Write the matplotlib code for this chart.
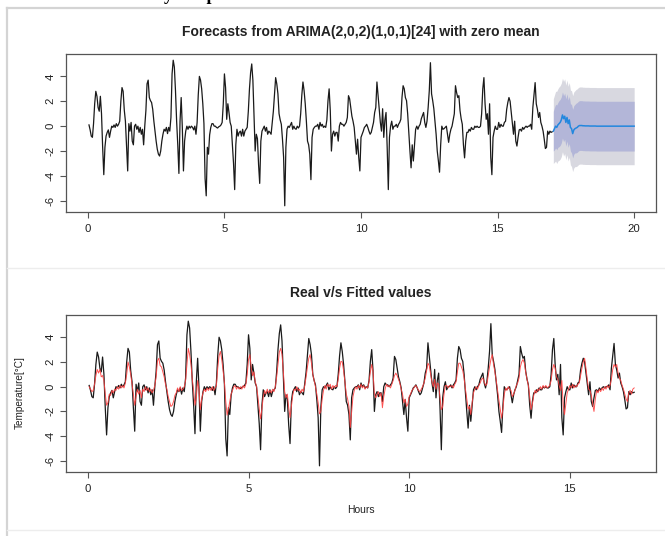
import matplotlib
matplotlib.use("Agg")
import matplotlib.pyplot as plt
from matplotlib.lines import Line2D
import numpy as np

FIG_W_PX, FIG_H_PX = 665, 536
DPI = 100

BOX_COLOR   = "#555555"
TEXT_COLOR  = "#222222"
OBS_COLOR   = "#1a1a1a"
FIT_COLOR   = "#ff4040"
FC_COLOR    = "#2287de"
SHADE_95    = "#d8d8e0"
SHADE_80    = "#b3b6d8"
FRAME_COLOR = "#d4d4d4"

TITLE_FORECAST = "Forecasts from ARIMA(2,0,2)(1,0,1)[24] with zero mean"
TITLE_FITTED   = "Real v/s Fitted values"
Y_LABEL = "Temperature[°C]"
X_LABEL = "Hours"
Y_TICKS = [-6, -4, -2, 0, 2, 4]

# hourly temperature deviation, one row per day (17 days)
observed = [
    0.1, -0.3, -0.8, -0.9, 0.2, 1.8, 2.8, 2.4, 1.5, 1.2, 2.4, 1.0, -1.7, -3.9, -1.7, -0.8, -0.5, -0.3, -0.9, -0.4, 0.0, -0.1, 0.1, -0.1,
    0.2, 0.0, 0.15, 0.4, 2.0, 3.1, 2.8, 1.3, 0.4, -1.7, -3.6, 0.2, -0.4, 0.3, -1.2, -1.5, 0.0, 0.15, -0.25, 0.0, -0.5, -0.1, -0.65, -0.25,
    -1.5, 0.0, 1.25, 3.4, 3.7, 2.3, 2.05, 1.9, 1.35, 0.4, -0.4, -1.2, -1.85, -2.25, -2.4, -2.0, -1.2, -0.65, -0.25, -0.4, -0.1, -0.6, -0.1, -0.4,
    0.7, 4.2, 5.3, 4.75, 2.85, 0.4, -1.5, -3.8, 0.4, 2.3, -0.1, -3.6, -1.2, -0.4, 0.0, -0.25, 0.0, -0.15, 0.0, -0.1, -0.3, 0.0, -0.65, 0.3,
    2.5, 4.0, 3.7, 3.0, 1.8, 0.2, -4.2, -5.6, -1.7, -2.25, -0.7, -0.1, 0.2, 0.2, 0.0, 0.0, -0.1, -0.15, -0.05, 0.0, 0.1, 0.3, 1.8, 4.2,
    3.1, 0.55, 1.8, 1.1, 0.3, 0.0, -1.5, -3.0, -5.1, -1.5, -0.25, -0.8, -0.5, -0.4, -0.8, -0.25, -0.8, -0.4, -0.25, -0.1, 1.2, 3.0, 4.3, 5.0,
    3.7, 0.8, -2.0, -0.65, -1.0, -3.1, -4.6, -1.2, -0.4, -0.2, 0.0, -0.4, -0.1, -0.65, -0.4, -0.5, -0.65, 0.3, 1.2, 2.5, 3.9, 3.4, 2.6, 1.0,
    0.5, 0.15, -1.05, -2.5, -6.4, -1.7, -0.25, 0.0, -0.1, 0.1, 0.3, -0.25, 0.0, -0.2, -0.25, 0.0, -0.15, 0.0, 1.0, 2.5, 3.55, 2.85, 1.8, 0.4,
    -1.2, -1.5, -2.25, -4.3, -0.9, -0.25, -0.1, 0.0, 0.0, 0.15, -0.25, 0.3, 0.0, 0.15, -0.1, 0.0, -0.1, 0.5, 2.05, 3.0, 1.25, -2.0, -0.65, -0.4,
    -0.8, -0.5, -0.5, -1.2, 0.0, 0.3, 0.15, 0.15, 0.0, 0.15, 0.3, 0.7, 2.45, 2.2, 1.5, 0.8, 0.4, -0.1, -1.2, -2.25, -1.05, -2.5, -3.6, -0.9,
    -0.65, -0.4, -0.1, 0.0, 0.15, -0.1, -0.4, -0.65, -0.5, -0.1, 0.3, 1.1, 1.5, 3.55, 2.45, 1.4, 0.3, -0.4, 1.4, -0.9, 0.5, 1.1, -1.7, -5.1,
    -0.9, 0.0, 0.4, -0.25, 0.0, 0.0, 0.15, -0.1, 0.15, 0.3, 0.55, 2.3, 3.25, 3.0, 2.3, 2.05, 1.0, -0.5, -2.0, -3.35, -1.5, -2.8, -1.5, -0.25,
    0.0, -0.25, 0.0, 0.15, 0.6, 0.85, 1.1, 0.3, -0.1, 0.4, 1.5, 2.85, 5.1, 2.6, 2.05, 1.4, 0.4, -0.65, -2.0, -2.8, -3.7, -1.5, 0.0, -0.25,
    -0.2, -0.1, 0.0, -0.65, -1.3, -0.65, -0.25, 0.0, 0.5, 1.0, 3.25, 2.7, 2.3, 2.45, 1.25, 0.6, 0.15, -1.5, -2.55, -1.2, -0.5, -0.5, -0.25, -0.4,
    -0.1, -0.25, -0.25, 0.0, -0.1, 0.0, -0.1, -0.1, 0.0, 1.0, 3.0, 3.9, 1.8, 0.55, 1.0, -0.65, 1.8, -2.5, -3.9, -0.9, -0.4, 0.0, -0.25, -0.25,
    0.3, -0.1, 0.15, 0.0, 0.0, 0.3, 0.4, 1.35, 1.9, 2.3, 2.0, 1.1, 0.2, -0.65, 0.4, -1.2, -1.6, -0.9, -0.3, -0.25, -0.4, -0.1, -0.25, -0.1,
    0.0, -0.1, 0.0, 0.0, 0.15, -0.25, 1.5, 2.5, 3.5, 1.8, 1.35, 0.7, 1.1, 0.3, 0.0, -0.4, -1.05, -1.8, -1.7, -0.4, -0.65, -0.4, -0.5, -0.45,
]

# in-sample fitted values of the model, same hours
fitted = [
    0.0, -0.2, -0.4, -0.3, 0.2, 0.9, 1.4, 1.1, 1.4, 0.8, 0.9, 0.5, -0.6, -1.5, -1.3, -0.6, -0.7, -0.3, -0.5, -0.2, -0.3, 0.0, -0.2, 0.1,
    -0.1, 0.1, -0.1, 0.3, 1.0, 2.0, 1.6, 1.0, 0.2, -0.6, -1.5, -0.8, -0.2, -0.6, -0.3, -0.9, -0.2, -0.4, 0.0, -0.3, -0.1, -0.4, -0.2, -0.5,
    -0.3, 0.1, 0.8, 2.1, 2.3, 1.7, 1.6, 1.2, 0.8, 0.2, -0.2, -0.8, -1.2, -1.6, -1.5, -1.2, -0.7, -0.5, -0.1, -0.4, 0.0, -0.3, -0.2, 0.0,
    0.5, 1.8, 3.1, 2.6, 1.8, 0.6, -0.3, -1.5, -0.9, 0.5, -0.3, -1.85, -1.0, -0.5, -0.2, -0.4, -0.1, -0.3, -0.1, -0.3, 0.0, -0.3, -0.1, 0.1,
    1.5, 2.5, 2.85, 2.2, 1.3, 0.3, -1.2, -2.3, -1.8, -1.2, -0.6, -0.3, 0.0, 0.1, -0.2, 0.0, -0.2, 0.0, -0.2, 0.1, -0.1, 0.2, 1.0, 2.2,
    2.6, 1.5, 0.9, 1.2, 0.4, 0.0, -0.8, -1.8, -2.6, -1.8, -0.8, -0.3, -0.6, -0.2, -0.5, -0.3, -0.5, -0.2, -0.4, 0.0, 0.8, 1.8, 2.8, 3.1,
    2.6, 1.2, -0.4, -0.9, -0.6, -1.7, -2.5, -1.6, -0.7, -0.2, -0.3, 0.0, -0.3, -0.2, -0.5, -0.2, -0.4, 0.1, 0.8, 1.6, 2.3, 2.6, 1.9, 1.0,
    0.5, 0.0, -0.6, -1.3, -2.2, -2.0, -1.0, -0.3, 0.1, -0.2, 0.2, 0.0, 0.2, -0.2, 0.1, -0.1, 0.1, 0.0, 0.6, 1.5, 2.05, 2.0, 1.3, 0.4,
    -0.6, -1.0, -1.6, -3.3, -2.0, -0.8, -0.3, 0.0, -0.2, 0.1, -0.1, 0.2, -0.1, 0.1, -0.2, 0.0, -0.1, 0.4, 1.2, 1.8, 1.2, -0.6, -0.9, -0.6,
    -0.4, -0.8, -0.5, -1.7, -0.8, -0.2, 0.2, 0.0, 0.1, -0.1, 0.2, 0.5, 0.9, 1.1, 0.9, 0.6, 0.3, -0.2, -0.6, -1.3, -1.0, -1.6, -1.4, -0.8,
    -0.6, -0.3, -0.2, 0.0, 0.1, -0.1, -0.3, -0.4, -0.2, 0.0, 0.3, 0.7, 1.3, 1.9, 1.7, 1.0, 0.4, 0.0, 0.6, -0.2, 0.3, 0.2, -0.9, -1.85,
    -1.6, -0.6, 0.1, 0.1, -0.1, 0.1, 0.0, 0.1, -0.1, 0.2, 0.4, 1.2, 1.9, 1.9, 1.6, 1.3, 0.7, -0.2, -1.0, -1.8, -1.6, -2.25, -1.3, -0.5,
    -0.2, 0.0, -0.2, 0.1, 0.3, 0.6, 0.7, 0.4, 0.1, 0.2, 0.9, 1.6, 2.2, 2.6, 1.8, 1.2, 0.5, -0.3, -1.1, -1.8, -2.55, -1.8, -0.6, -0.1,
    -0.3, 0.0, -0.2, -0.3, -0.8, -0.6, -0.3, 0.1, 0.3, 0.7, 1.6, 2.0, 2.2, 1.9, 1.2, 0.6, 0.1, -0.8, -1.85, -1.4, -0.7, -0.3, -0.5, -0.2,
    -0.3, 0.0, -0.2, 0.1, -0.1, 0.1, -0.1, 0.0, 0.1, 0.5, 1.4, 1.8, 1.5, 0.8, 0.6, 0.1, -0.3, 0.5, -1.5, -2.25, -1.4, -0.5, -0.2, 0.1,
    -0.1, 0.2, -0.1, 0.1, 0.0, 0.2, 0.3, 0.9, 1.5, 2.0, 2.3, 1.5, 0.6, -0.2, -0.3, -0.7, -1.4, -2.0, -1.0, -0.3, -0.5, -0.2, -0.4, -0.1,
    -0.3, 0.0, -0.2, 0.1, -0.1, 0.1, 0.6, 1.4, 1.8, 1.6, 1.8, 1.1, 0.7, 0.5, 0.1, -0.2, -0.6, -1.0, -1.2, -0.5, -0.3, -0.6, -0.2, -0.1,
]

# 72-hour point forecast and interval half-widths
fc_mean = [
    -0.4, -0.2, 0.0, -0.1, 0.1, 0.2, 0.3, 0.5, 0.9, 0.6, 0.8, 0.3, 0.7, 0.2, 0.5, -0.1, -0.2, -0.6, -0.3, -0.2, -0.15, -0.1, 0.0, 0.05,
    0.05, 0.05, 0.03, 0.03, 0.02, 0.02, 0.02, 0.02, 0.01, 0.01, 0.01, 0.01, 0.01, 0.01, 0.0, 0.0, 0.0, 0.0, 0.0, 0.0, 0.0, 0.0, 0.0, 0.0,
    0.0, 0.0, 0.0, 0.0, 0.0, 0.0, 0.0, 0.0, 0.0, 0.0, 0.0, 0.0, 0.0, 0.0, 0.0, 0.0, 0.0, 0.0, 0.0, 0.0, 0.0, 0.0, 0.0, 0.0,
]
fc_half80 = [1.6, 1.7, 1.75, 1.8, 1.8, 1.85, 1.85, 1.85, 1.85, 1.85, 1.85, 1.9, 1.9, 1.9, 1.9, 1.9, 1.95, 1.95, 1.95, 1.95, 2.0, 2.0, 2.0, 2.0] + [2.0] * 48
fc_half95 = [2.6, 2.7, 2.8, 2.9, 2.9, 2.95, 2.95, 2.95, 2.95, 3.0, 3.0, 3.0, 3.0, 3.0, 3.0, 3.0, 3.05, 3.05, 3.05, 3.05, 3.1, 3.1, 3.1, 3.1] + [3.1] * 48


def _fx(px):
    return px / FIG_W_PX


def _fy(py):
    return 1 - py / FIG_H_PX


def _axes_from_px(fig, left, top, right, bottom):
    return fig.add_axes([_fx(left), _fy(bottom), (right - left) / FIG_W_PX, (bottom - top) / FIG_H_PX])


def _style_r_axes(ax, xticks):
    for spine in ax.spines.values():
        spine.set_color(BOX_COLOR)
        spine.set_linewidth(0.9)
    ax.set_xticks(xticks)
    ax.set_xticklabels([str(v) for v in xticks])
    ax.set_yticks(Y_TICKS)
    ax.set_yticklabels([str(v) for v in Y_TICKS], rotation=90, va="center")
    ax.tick_params(direction="out", length=4.5, width=0.8, colors=BOX_COLOR,
                   labelcolor=TEXT_COLOR, labelsize=8.2)
    ax.tick_params(axis="x", pad=4)
    ax.tick_params(axis="y", pad=3)
    ax.set_ylim(-6.9, 5.8)


def _fig_line(fig, x0, y0, x1, y1, color, lw):
    fig.add_artist(Line2D([_fx(x0), _fx(x1)], [_fy(y0), _fy(y1)],
                          transform=fig.transFigure, color=color, linewidth=lw))


plt.rcParams["font.family"] = ["Liberation Sans", "DejaVu Sans"]

obs = np.array(observed)
fit = np.array(fitted)
mean = np.array(fc_mean)
t_obs = np.arange(1, len(obs) + 1) / 24
t_fc = (len(obs) + np.arange(1, len(mean) + 1)) / 24

fig = plt.figure(figsize=(FIG_W_PX / DPI, FIG_H_PX / DPI), dpi=DPI)
fig.patch.set_facecolor("white")

# page frame around the two panels
_fig_line(fig, 7, 8, 7, 536, FRAME_COLOR, 1.6)
_fig_line(fig, 7, 8, 665, 8, FRAME_COLOR, 1.6)
_fig_line(fig, 7, 268, 665, 268, "#ededed", 1.0)
_fig_line(fig, 7, 530, 665, 530, "#ededed", 1.0)
# caption line above the frame, only its lower edge falls inside the page
fig.text(_fx(118), _fy(0.5), "Hourly temperature", fontsize=13, fontweight="bold",
         family="Liberation Serif", va="baseline", ha="left", color="black")

# forecast panel
ax1 = _axes_from_px(fig, 66, 54, 656, 212)
ax1.fill_between(t_fc, mean - np.array(fc_half95), mean + np.array(fc_half95),
                 color=SHADE_95, linewidth=0, zorder=1)
ax1.fill_between(t_fc, mean - np.array(fc_half80), mean + np.array(fc_half80),
                 color=SHADE_80, linewidth=0, zorder=2)
ax1.plot(t_obs, obs, color=OBS_COLOR, linewidth=0.9, zorder=3)
ax1.plot(t_fc, mean, color=FC_COLOR, linewidth=1.1, zorder=4)
ax1.set_xlim(-0.8, 20.8)
_style_r_axes(ax1, [0, 5, 10, 15, 20])
fig.text(_fx(361), _fy(32), TITLE_FORECAST, ha="center", va="center",
         fontsize=10, fontweight="bold", color=TEXT_COLOR)

# real vs fitted panel
ax2 = _axes_from_px(fig, 66, 315, 656, 472)
ax2.plot(t_obs, obs, color=OBS_COLOR, linewidth=0.9, zorder=3)
ax2.plot(t_obs, fit, color=FIT_COLOR, linewidth=0.7, alpha=0.9, zorder=4)
ax2.set_xlim(-0.68, 17.68)
_style_r_axes(ax2, [0, 5, 10, 15])
fig.text(_fx(361), _fy(293), TITLE_FITTED, ha="center", va="center",
         fontsize=10, fontweight="bold", color=TEXT_COLOR)
fig.text(_fx(361), _fy(510), X_LABEL, ha="center", va="center", fontsize=7.5, color=TEXT_COLOR)
fig.text(_fx(20), _fy(393), Y_LABEL, ha="center", va="center", rotation=90,
         fontsize=7.2, color=TEXT_COLOR)

fig.savefig("out.png", dpi=DPI, facecolor="white")
